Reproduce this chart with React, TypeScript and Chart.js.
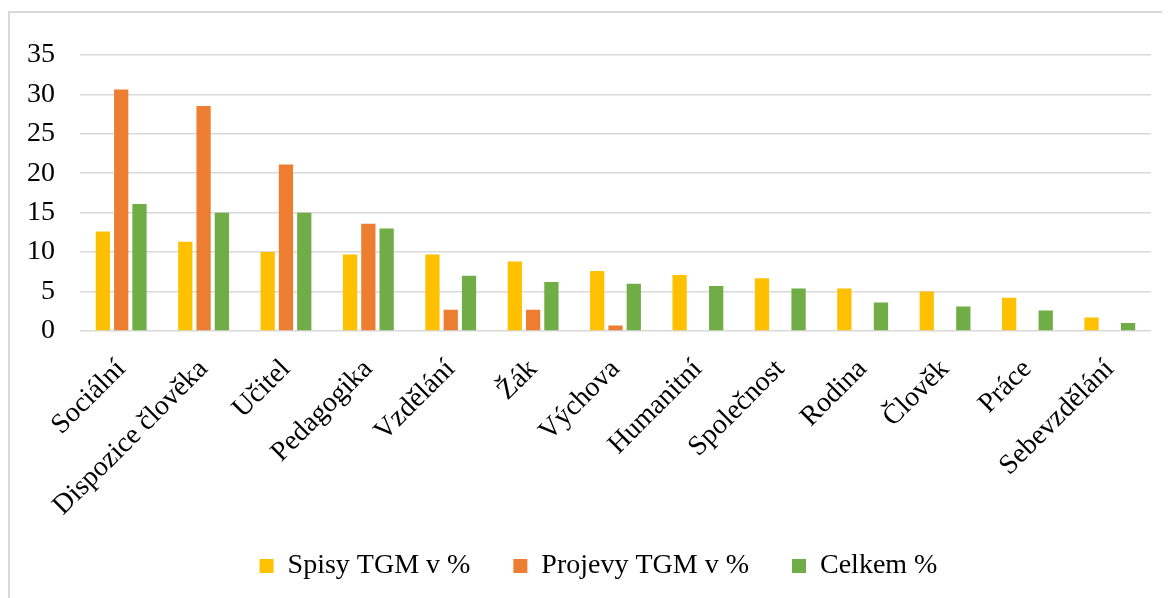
import React, { useEffect, useRef } from "react";
import { Chart, registerables } from "chart.js";

Chart.register(...registerables);

const categories = [
  "Sociální",
  "Dispozice člověka",
  "Učitel",
  "Pedagogika",
  "Vzdělání",
  "Žák",
  "Výchova",
  "Humanitní",
  "Společnost",
  "Rodina",
  "Člověk",
  "Práce",
  "Sebevzdělání",
];

const spisy = [12.6, 11.3, 10.0, 9.7, 9.7, 8.8, 7.6, 7.1, 6.7, 5.4, 5.0, 4.2, 1.7];
const projevy = [30.6, 28.5, 21.1, 13.6, 2.7, 2.7, 0.7, null, null, null, null, null, null];
const celkem = [16.1, 15.0, 15.0, 13.0, 7.0, 6.2, 6.0, 5.7, 5.4, 3.6, 3.1, 2.6, 1.0];

const seriesNames = ["Spisy TGM v %", "Projevy TGM v %", "Celkem %"];
const seriesColors = ["#FFC000", "#ED7D31", "#70AD47"];

const FONT = "'Liberation Serif', 'Times New Roman', serif";

const shiftLegend = {
  id: "shiftLegend",
  afterLayout(chart: any) {
    const l = chart.legend;
    if (l) {
      l.left += 18;
      l.right += 18;
    }
  },
};

export default function App() {
  const canvasRef = useRef<HTMLCanvasElement | null>(null);

  useEffect(() => {
    document.documentElement.style.overflow = "hidden";
    document.body.style.overflow = "hidden";
    const canvas = canvasRef.current;
    if (!canvas) return;
    const data = [spisy, projevy, celkem];
    const chart = new Chart(canvas, {
      type: "bar",
      data: {
        labels: categories,
        datasets: seriesNames.map((name, i) => ({
          label: name,
          data: data[i] as any,
          backgroundColor: seriesColors[i],
          borderWidth: 0,
          categoryPercentage: 0.666,
          barPercentage: 0.78,
        })),
      },
      plugins: [shiftLegend],
      options: {
        animation: false,
        responsive: true,
        maintainAspectRatio: false,
        layout: { padding: { left: 0, right: 19, top: 28, bottom: 8 } },
        plugins: {
          tooltip: { enabled: false },
          legend: {
            position: "bottom",
            labels: {
              color: "#000",
              font: { family: FONT, size: 28 },
              boxWidth: 14,
              boxHeight: 14,
              padding: 43,
            },
          },
        },
        scales: {
          x: {
            grid: { display: false },
            border: { display: false },
            ticks: {
              color: "#000",
              font: { family: FONT, size: 28 },
              autoSkip: false,
              minRotation: 45,
              maxRotation: 45,
              padding: 14,
              labelOffset: 0,
            },
            afterFit: (scale: any) => {
              scale.height = 178;
              scale._computeLabelArea = () => undefined;
            },
          },
          y: {
            min: 0,
            max: 35,
            grid: { color: "#d9d9d9", lineWidth: 1.5, drawTicks: false },
            border: { display: false },
            ticks: {
              stepSize: 5,
              color: "#000",
              font: { family: FONT, size: 28 },
              padding: 25,
            },
            afterFit: (scale: any) => {
              scale.width = 70;
            },
          },
        },
      },
    });
    return () => chart.destroy();
  }, []);

  return (
    <div style={{ paddingTop: 3 }}>
      <div
        style={{
          borderLeft: "2px solid #d9d9d9",
          borderTop: "2px solid #d9d9d9",
          width: 1160,
          height: 585,
        }}
      >
        <div style={{ position: "relative", width: 1160, height: 585 }}>
          <canvas ref={canvasRef} />
        </div>
      </div>
    </div>
  );
}
